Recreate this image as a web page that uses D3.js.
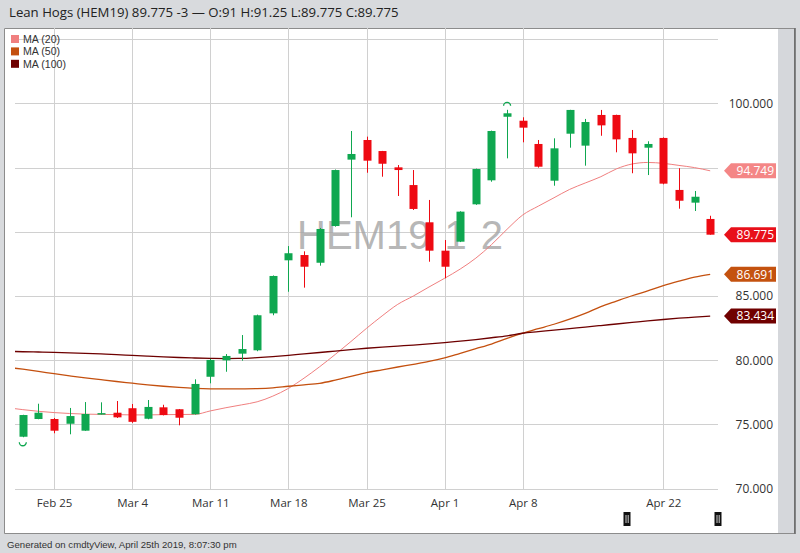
<!DOCTYPE html>
<html>
<head>
<meta charset="utf-8">
<script src="https://cdn.jsdelivr.net/npm/d3@7"></script>
<style>
  html, body { margin: 0; padding: 0; background: #d8dadd; }
  svg { display: block; }
  text { font-family: "Open Sans", "Liberation Sans", Arial, sans-serif; }
</style>
</head>
<body>
<svg id="chart" width="800" height="553"></svg>
<script>
// ---------------- DATA ----------------
const titleText = "Lean Hogs (HEM19) 89.775 -3 \u2014 O:91 H:91.25 L:89.775 C:89.775";
const footerText = "Generated on cmdtyView, April 25th 2019, 8:07:30 pm";
const watermarkText = "HEM19 1 2";

// trading days (first date only carries moving-average values, its candle is off-chart)
const dates = ["Feb 20","Feb 21","Feb 22","Feb 25","Feb 26","Feb 27","Feb 28","Mar 1",
  "Mar 4","Mar 5","Mar 6","Mar 7","Mar 8","Mar 11","Mar 12","Mar 13","Mar 14","Mar 15",
  "Mar 18","Mar 19","Mar 20","Mar 21","Mar 22","Mar 25","Mar 26","Mar 27","Mar 28","Mar 29",
  "Apr 1","Apr 2","Apr 3","Apr 4","Apr 5","Apr 8","Apr 9","Apr 10","Apr 11","Apr 12",
  "Apr 15","Apr 16","Apr 17","Apr 18","Apr 22","Apr 23","Apr 24","Apr 25"];

const open  = [null,74.04,75.42,75.42,75.05,74.51,75.80,75.91,76.26,75.44,76.33,76.18,75.79,
  78.71,79.99,80.51,80.77,83.65,87.78,88.19,87.59,90.45,95.62,97.15,96.29,95.02,93.64,90.74,
  88.53,89.23,92.14,94.01,98.96,98.65,96.84,93.98,97.64,96.71,99.10,99.10,97.31,96.55,97.31,
  93.26,92.27,91.00];
const high  = [null,75.75,76.61,75.50,76.28,76.74,76.72,76.82,76.59,76.90,76.53,76.20,78.51,
  80.10,80.48,81.96,83.55,86.60,88.89,88.48,90.30,94.85,97.85,97.41,96.30,95.20,94.81,92.48,
  89.36,91.60,94.92,97.88,99.50,98.92,97.15,97.28,99.50,98.79,99.49,99.12,97.93,97.05,97.35,
  94.95,93.18,91.25];
const low   = [null,74.00,75.40,74.31,74.23,74.50,75.78,75.50,75.12,75.40,75.70,74.93,75.77,
  78.20,79.10,79.96,80.70,83.50,85.33,85.65,87.36,90.40,91.13,94.60,94.29,92.79,91.70,87.67,
  86.38,89.20,92.10,93.90,95.72,96.97,95.00,93.59,96.55,95.15,97.48,96.19,94.56,94.42,93.70,
  91.80,91.62,89.775];
const close = [null,75.73,75.91,74.51,75.65,75.81,75.88,75.55,75.20,76.36,75.73,75.52,78.15,
  80.02,80.33,80.87,83.50,86.56,88.33,87.28,90.22,94.81,96.06,95.54,95.30,94.81,91.78,88.53,
  87.28,91.57,94.89,97.85,99.23,98.11,95.07,96.50,99.49,98.55,98.29,97.20,96.11,96.84,93.75,
  92.42,92.73,89.775];

const ma20  = [76.30,76.15,76.02,75.92,75.85,75.80,75.78,75.76,75.74,75.74,75.76,75.77,75.78,
  76.05,76.30,76.52,76.76,77.20,77.80,78.60,79.49,80.45,81.45,82.48,83.45,84.35,85.00,85.70,
  86.38,87.10,87.95,89.00,90.20,91.31,92.00,92.65,93.30,93.80,94.29,94.90,95.28,95.40,95.33,
  95.17,95.00,94.749];
const ma50  = [79.45,79.30,79.13,78.95,78.78,78.62,78.48,78.34,78.21,78.08,77.97,77.88,77.81,
  77.77,77.76,77.77,77.79,77.85,77.97,78.08,78.20,78.45,78.74,79.03,79.25,79.47,79.68,79.90,
  80.18,80.54,80.90,81.26,81.70,82.10,82.45,82.80,83.20,83.65,84.17,84.60,85.02,85.40,85.80,
  86.15,86.47,86.691];
const ma100 = [80.70,80.66,80.64,80.61,80.57,80.53,80.49,80.44,80.37,80.31,80.26,80.21,80.17,
  80.14,80.13,80.14,80.20,80.28,80.38,80.49,80.60,80.71,80.82,80.93,81.02,81.10,81.18,81.27,
  81.37,81.49,81.61,81.75,81.90,82.10,82.22,82.34,82.46,82.58,82.70,82.82,82.94,83.06,83.17,
  83.27,83.35,83.434];

const maNames  = ["MA (20)", "MA (50)", "MA (100)"];
const maLast   = ["94.749", "86.691", "83.434"];
const lastClose = "89.775";

const xTickDates  = ["Feb 25","Mar 4","Mar 11","Mar 18","Mar 25","Apr 1","Apr 8","Apr 22"];
const yTickValues = [70, 75, 80, 85, 90, 95, 100];
const yGridValues = [70, 75, 80, 85, 90, 95, 100, 105];
const markerHigh = "Apr 5";   // swing marker above
const markerLow  = "Feb 21";  // swing marker below

// ---------------- STYLE ----------------
const upColor = "#0fa750", downColor = "#ee0a12";
const maColors = ["#f07f7f", "#c4500f", "#6e0000"];
const badgeColors = ["#f48686", "#c4520f", "#700000"];

// ---------------- DRAW ----------------
const svg = d3.select("#chart");
const W = 800, H = 553;
const plot = { left: 15, right: 718, top: 28, bottom: 490 };

// background & frame
svg.append("rect").attr("x",0).attr("y",0).attr("width",W).attr("height",H).attr("fill","#d8dadd");
svg.append("rect").attr("x",4).attr("y",28).attr("width",774).attr("height",505).attr("fill","#ffffff");
svg.append("path").attr("d","M4.5,533.5V28.5H794.5V533.5Z").attr("fill","none").attr("stroke","#8c8c8c");
svg.append("rect").attr("x",778).attr("y",29).attr("width",16).attr("height",504).attr("fill","#d5d7db");
svg.append("line").attr("x1",795).attr("x2",795).attr("y1",28).attr("y2",534).attr("stroke","#666").attr("stroke-width",1.5);

// title & footer
svg.append("text").attr("x",9).attr("y",17).attr("font-size",13.2).attr("fill","#222").text(titleText);
svg.append("text").attr("x",7).attr("y",548).attr("font-size",9.6).attr("fill","#333")
  .style("font-family","'Liberation Sans', Arial, sans-serif").text(footerText);

// scales
const first = 1; // index of first visible candle
const x = d3.scaleLinear().domain([first - 0.5, dates.length - 0.5]).range([plot.left, plot.right]);
const y = d3.scaleLinear().domain([70, 100]).range([488.6, 103.4]);
const idx = d => dates.indexOf(d);

// clip
svg.append("clipPath").attr("id","clip").append("rect")
  .attr("x",plot.left).attr("y",plot.top).attr("width",plot.right-plot.left).attr("height",plot.bottom-plot.top);

// grid
const grid = svg.append("g");
grid.selectAll("line.h").data(yGridValues).join("line")
  .attr("x1",plot.left).attr("x2",plot.right)
  .attr("y1",d=>Math.round(y(d))+0.5).attr("y2",d=>Math.round(y(d))+0.5)
  .attr("stroke","#d0d0d0").attr("stroke-width",1);
grid.selectAll("line.v").data(xTickDates).join("line")
  .attr("x1",d=>Math.round(x(idx(d)))+0.5).attr("x2",d=>Math.round(x(idx(d)))+0.5)
  .attr("y1",plot.top).attr("y2",plot.bottom)
  .attr("stroke","#d0d0d0").attr("stroke-width",1);

// watermark
svg.append("text").attr("x",297).attr("y",249).attr("font-size",40)
  .style("font-family","'Liberation Sans', Arial, sans-serif")
  .attr("word-spacing",3).attr("fill","#a4a4a4").attr("fill-opacity",0.8)
  .text(watermarkText);

// legend
const legend = svg.append("g");
maNames.forEach((n,i) => {
  legend.append("rect").attr("x",11).attr("y",35+i*12.4).attr("width",8).attr("height",8).attr("fill",maColors[i]);
  legend.append("text").attr("x",23).attr("y",43+i*12.4).attr("font-size",10.6).attr("fill","#333")
    .style("font-family","'Liberation Sans', Arial, sans-serif").text(n);
});

// moving averages
const plotG = svg.append("g").attr("clip-path","url(#clip)");
[ma20, ma50, ma100].forEach((arr,i) => {
  const line = d3.line().x((d,j)=>x(j)).y(d=>y(d)).curve(d3.curveMonotoneX);
  plotG.append("path").datum(arr).attr("d",line).attr("fill","none")
    .attr("stroke",maColors[i]).attr("stroke-width", i===0 ? 1 : 1.3);
});

// candles
const candleData = dates.map((d,i)=>({d,i,o:open[i],h:high[i],l:low[i],c:close[i]})).filter(c=>c.o!==null);
const bw = 8;
const cg = plotG.append("g");
cg.selectAll("line.wick").data(candleData).join("line")
  .attr("x1",c=>Math.round(x(c.i))+0.5).attr("x2",c=>Math.round(x(c.i))+0.5)
  .attr("y1",c=>y(c.h)).attr("y2",c=>y(c.l))
  .attr("stroke",c=>c.c>=c.o?upColor:downColor).attr("stroke-width",1);
cg.selectAll("rect.body").data(candleData).join("rect")
  .attr("x",c=>Math.round(x(c.i))+0.5-bw/2).attr("width",bw)
  .attr("y",c=>y(Math.max(c.o,c.c)))
  .attr("height",c=>Math.max(1.5, Math.abs(y(c.o)-y(c.c))))
  .attr("fill",c=>c.c>=c.o?upColor:downColor);

// swing markers
const hi = idx(markerHigh), lo = idx(markerLow);
plotG.append("path")
  .attr("d",`M${x(hi)-3.5},${y(high[hi])-4} a3.5,3.5 0 0 1 7,0`)
  .attr("fill","none").attr("stroke",upColor).attr("stroke-width",1.3);
plotG.append("path")
  .attr("d",`M${x(lo)-3.5},${y(low[lo])+5} a3.5,3.5 0 0 0 7,0`)
  .attr("fill","none").attr("stroke",upColor).attr("stroke-width",1.3);

// badge values (drawn over the axis; axis labels hidden beneath them are skipped)
const badgeVals = [[maLast[0], badgeColors[0]], [lastClose, "#e8101a"], [maLast[1], badgeColors[1]], [maLast[2], badgeColors[2]]];
const badgeYs = badgeVals.map(b => y(+b[0]));
const visibleTicks = yTickValues.filter(v => badgeYs.every(by => Math.abs(y(v) - by) > 12));

// y axis (right)
const yAxis = d3.axisRight(y).tickValues(visibleTicks).tickFormat(d3.format(".3f")).tickSize(0);
const yg = svg.append("g").attr("transform","translate(773,0)").call(yAxis);
yg.select(".domain").remove();
yg.selectAll("text").attr("x",0).attr("text-anchor","end").attr("font-size",12)
  .attr("fill","#333").style("font-family","'Open Sans', sans-serif");

// x axis
const xAxis = d3.axisBottom(x).tickValues(xTickDates.map(idx)).tickFormat(i=>dates[i]).tickSize(0);
const xg = svg.append("g").attr("transform","translate(0,496)").call(xAxis);
xg.select(".domain").remove();
xg.selectAll("text").attr("font-size",11.5).attr("fill","#333").style("font-family","'Open Sans', sans-serif");

// value badges
function badge(val, color) {
  const yy = y(+val);
  const g = svg.append("g");
  g.append("path")
    .attr("d",`M724,${yy} L731,${yy-7.5} H776 V${yy+7.5} H731 Z`)
    .attr("fill",color);
  g.append("text").attr("x",774).attr("y",yy+4.3).attr("text-anchor","end")
    .attr("font-size",12).attr("fill","#fff").text(val);
}
badgeVals.forEach(b => badge(b[0], b[1]));

// range handles
[627, 718].forEach(hx => {
  const g = svg.append("g");
  g.append("rect").attr("x",hx-3.5).attr("y",512).attr("width",7).attr("height",14).attr("fill","#111");
  g.append("line").attr("x1",hx-1).attr("x2",hx-1).attr("y1",515).attr("y2",523).attr("stroke","#fff").attr("stroke-width",0.8);
  g.append("line").attr("x1",hx+1.2).attr("x2",hx+1.2).attr("y1",515).attr("y2",523).attr("stroke","#fff").attr("stroke-width",0.8);
});
</script>
</body>
</html>
